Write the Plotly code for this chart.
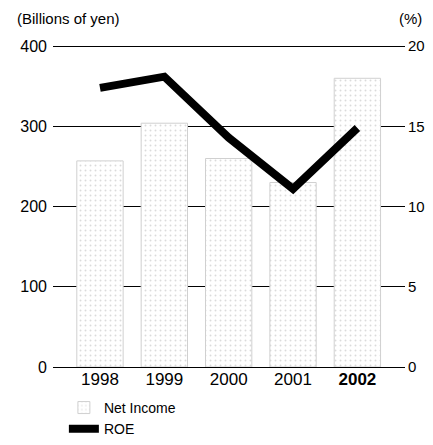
import plotly.graph_objects as go

years = ["1998", "1999", "2000", "2001", "2002"]
year_labels = ["1998", "1999", "2000", "2001", "<b>2002</b>"]
net_income = [257, 304, 260, 230, 360]
roe = [17.4, 18.1, 14.3, 11.1, 14.9]

font = "Liberation Sans, Arial, sans-serif"

fig = go.Figure()
fig.add_trace(go.Bar(
    x=years, y=net_income, name="Net Income",
    marker=dict(color="white", line=dict(color="#d0d0d0", width=1),
                pattern=dict(shape=".", fgcolor="#b8b8b8", bgcolor="white",
                             size=5, solidity=0.12)),
    yaxis="y",
))
fig.add_trace(go.Scatter(
    x=years, y=roe, name="ROE", mode="lines",
    line=dict(color="black", width=8), yaxis="y2",
))

fig.update_layout(
    width=417, height=429,
    margin=dict(l=45, r=20, t=35, b=70, autoexpand=False),
    paper_bgcolor="white", plot_bgcolor="white",
    font=dict(family=font, size=15, color="black"),
    bargap=0.28,
    showlegend=True,
    legend=dict(xref="container", yref="container", x=0.134, y=0.105,
                xanchor="left", yanchor="top",
                font=dict(size=14), tracegroupgap=0, itemwidth=30,
                bgcolor="rgba(0,0,0,0)"),
    xaxis=dict(type="category", range=[-0.73, 4.74], tickvals=years,
               ticktext=year_labels, showgrid=False, ticks="",
               showline=False, zeroline=False, tickfont=dict(size=17),
               automargin=False),
    yaxis=dict(range=[0, 404], tickvals=[0, 100, 200, 300, 400],
               showgrid=True, gridcolor="black", gridwidth=1,
               ticks="", ticklabelstandoff=5,
               zeroline=True, zerolinecolor="black", zerolinewidth=1,
               showline=False, tickfont=dict(size=16), automargin=False),
    yaxis2=dict(range=[0, 20.2], tickvals=[0, 5, 10, 15, 20], overlaying="y",
                side="right", showgrid=False, ticks="", ticklabelstandoff=2,
                zeroline=False, showline=False,
                tickfont=dict(size=15), automargin=False),
    annotations=[
        dict(text="(Billions of yen)", xref="paper", yref="paper",
             x=-0.108, y=1.077, xanchor="left", yanchor="middle",
             showarrow=False, font=dict(size=15)),
        dict(text="(%)", xref="paper", yref="paper",
             x=1.054, y=1.077, xanchor="right", yanchor="middle",
             showarrow=False, font=dict(size=15)),
    ],
)

fig.write_html("out.html")
